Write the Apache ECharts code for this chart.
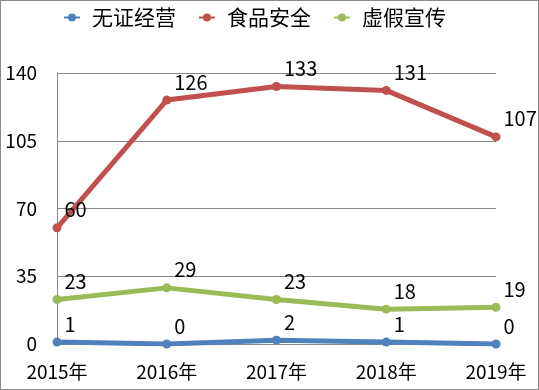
<!DOCTYPE html>
<html><head><meta charset="utf-8">
<script src="https://cdn.jsdelivr.net/npm/echarts@6/dist/echarts.min.js"></script>
<style>html,body{margin:0;padding:0;background:#fff}#c{width:537px;height:388px;border:1px solid #8a8a8a}</style>
</head><body><div id="c"></div>
<script>
const categories = ['2015年','2016年','2017年','2018年','2019年'];
const seriesNames = ['无证经营','食品安全','虚假宣传'];
const wuzheng = [1,0,2,1,0];
const shipin = [60,126,133,131,107];
const xujia = [23,29,23,18,19];
const colors = ['#4f81bd','#c0504d','#9bbb59'];
const FONT = '"Noto Sans CJK SC", "Open Sans", sans-serif';
const chart = echarts.init(document.getElementById('c'));
function mk(name, data, color){
  return {
    name, type:'line', data, color,
    symbol:'circle', symbolSize:9,
    lineStyle:{width:5,color},
    itemStyle:{color},
    label:{show:true, position:'right', distance:3, offset:[0,-18], color:'#000', fontSize:20, fontFamily:FONT},
    z: 3
  };
}
chart.setOption({
  animation:false,
  textStyle:{fontFamily:FONT},
  legend:{
    top:1, left:57, itemGap:22, itemWidth:16, itemHeight:10,
    textStyle:{fontSize:21, color:'#000', fontFamily:FONT, padding:[0,0,0,7]},
    data:seriesNames
  },
  grid:{left:56, right:42, top:72, bottom:45, containLabel:false},
  xAxis:{
    type:'category', data:categories, boundaryGap:false,
    axisLine:{lineStyle:{color:'#888'}}, axisTick:{show:false},
    axisLabel:{fontSize:19, color:'#000', margin:18, fontFamily:FONT},
    splitLine:{show:false}
  },
  yAxis:{
    type:'value', min:0, max:140, interval:35,
    axisLine:{show:true, lineStyle:{color:'#888'}}, axisTick:{show:false},
    axisLabel:{fontSize:19, color:'#000', margin:20, fontFamily:FONT},
    splitLine:{lineStyle:{color:'#888', width:1}}
  },
  series:[mk(seriesNames[0], wuzheng, colors[0]), mk(seriesNames[1], shipin, colors[1]), mk(seriesNames[2], xujia, colors[2])]
});
</script></body></html>
